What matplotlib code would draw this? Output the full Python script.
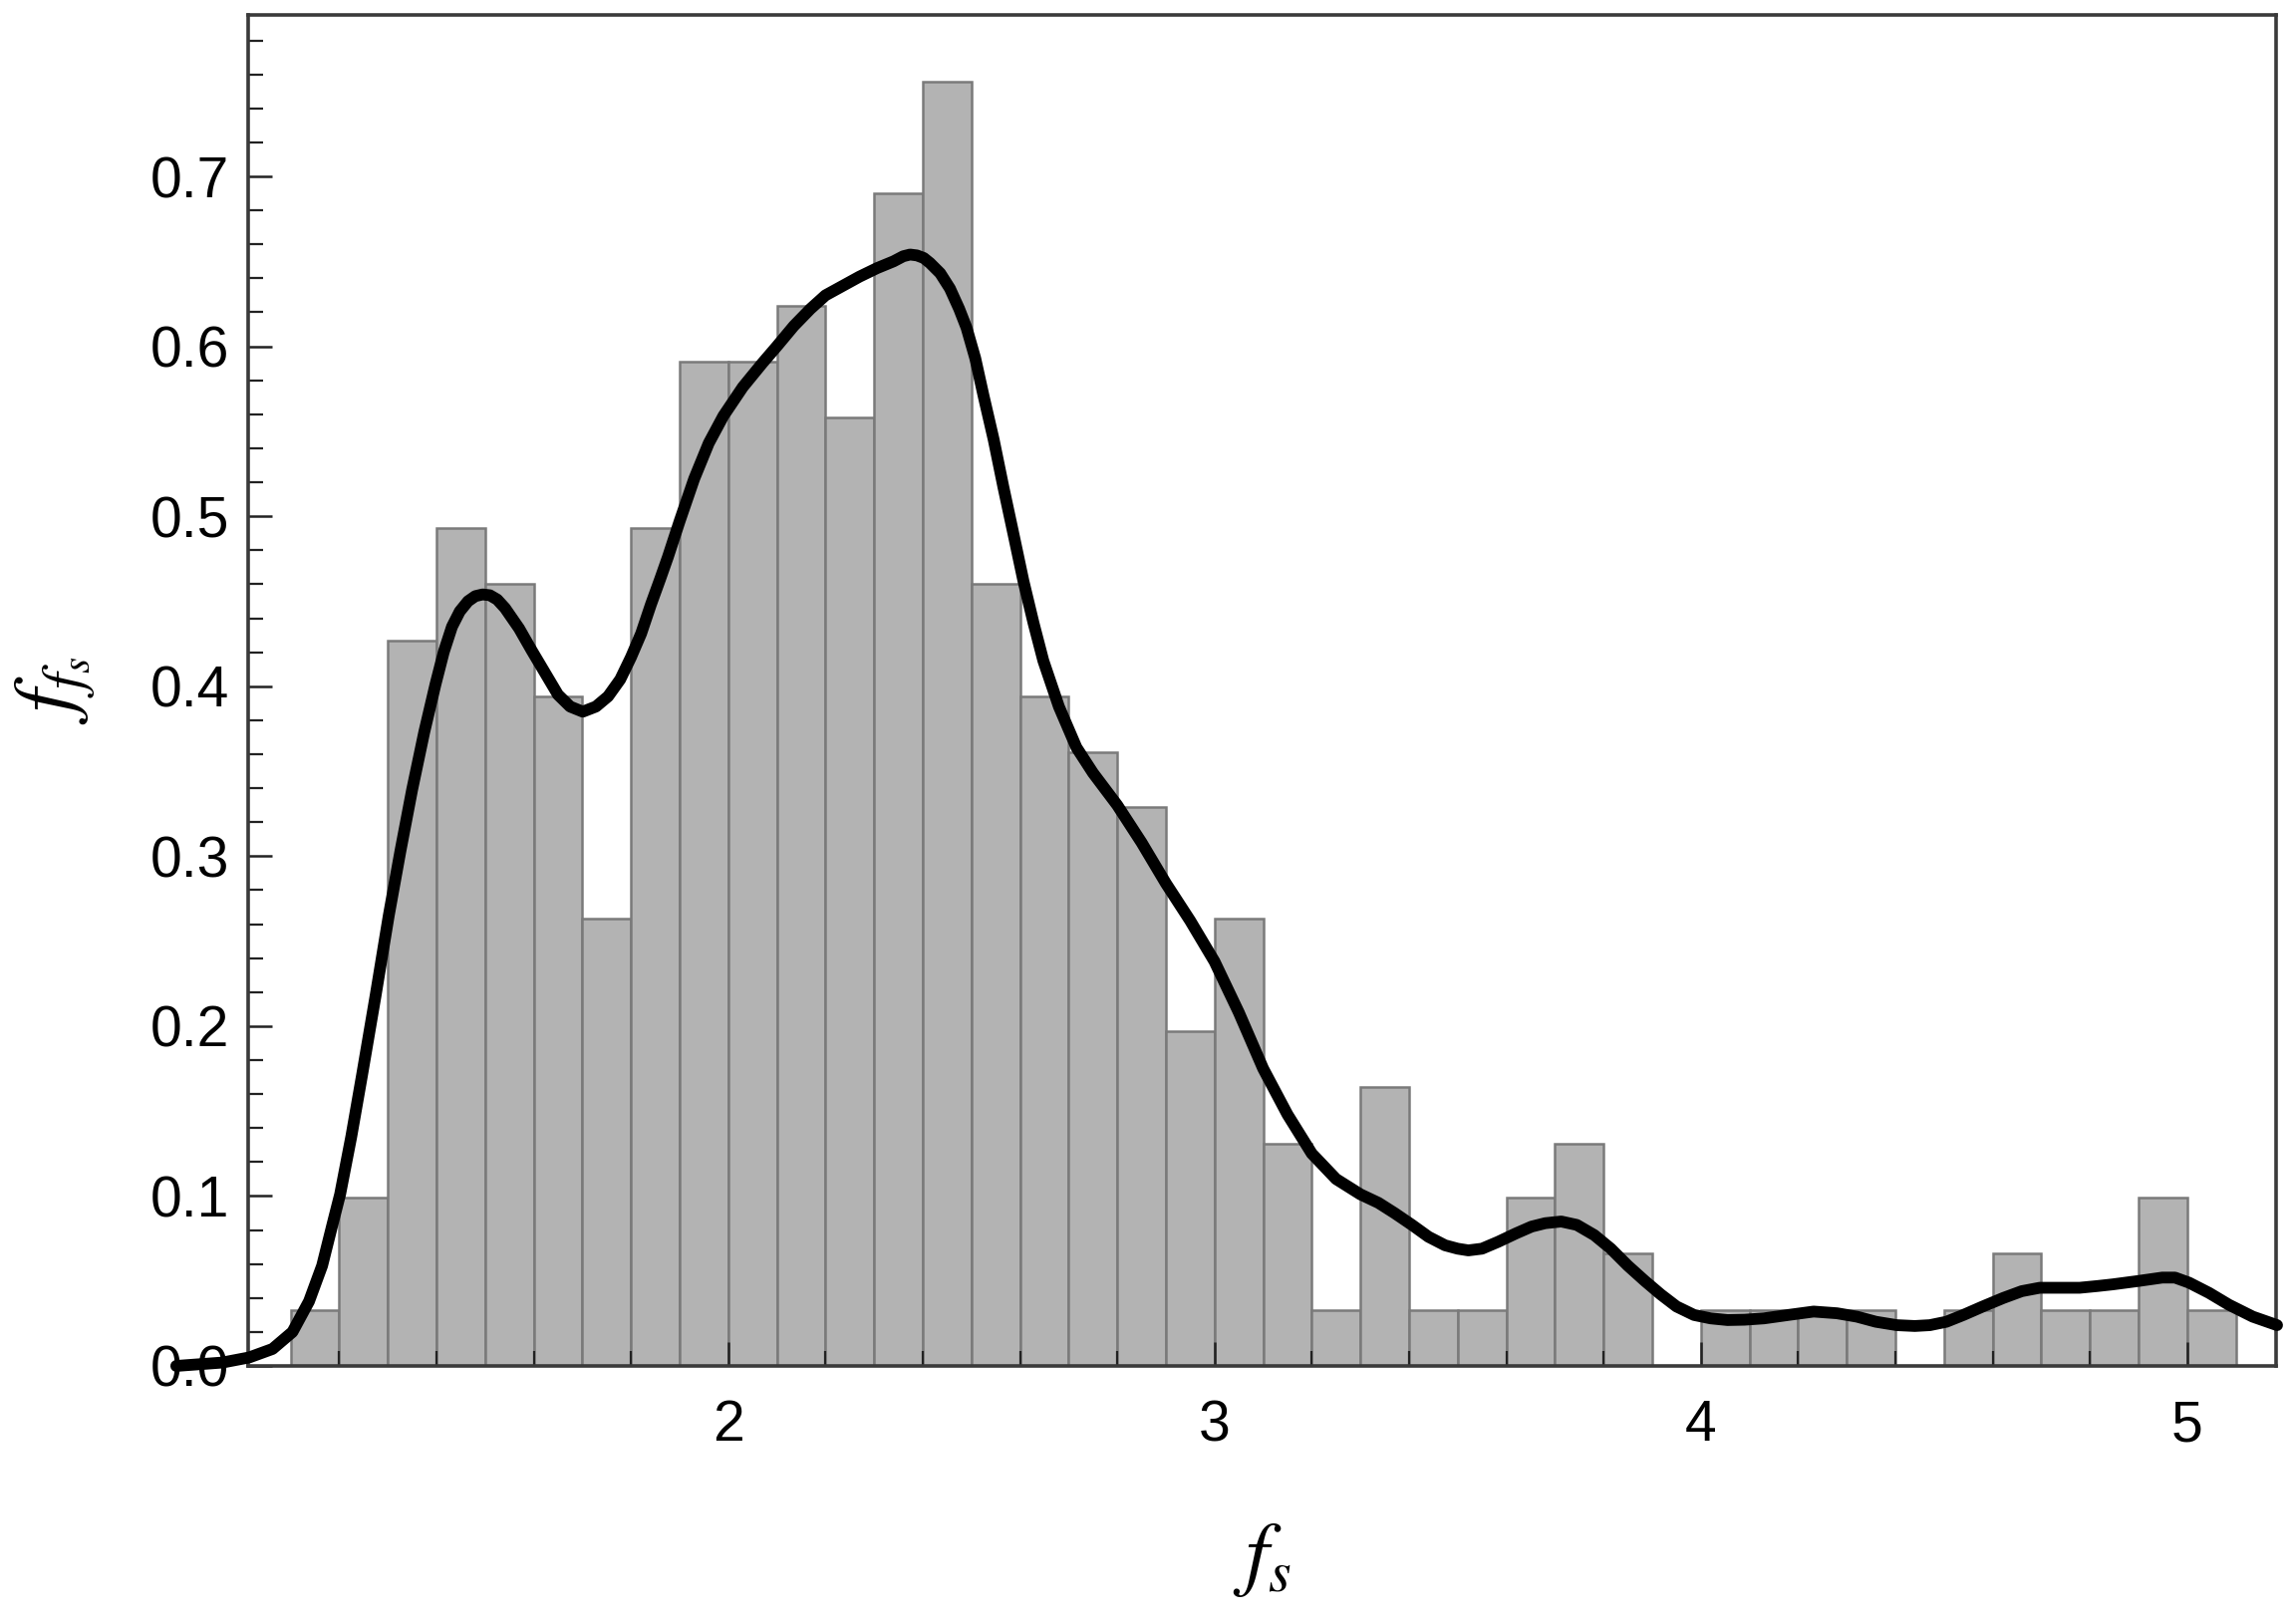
import matplotlib
matplotlib.use("Agg")
import matplotlib.pyplot as plt
from matplotlib.ticker import MultipleLocator, FormatStrFormatter

plt.rcParams["font.family"] = ["Liberation Sans", "DejaVu Sans"]
plt.rcParams["mathtext.fontset"] = "stix"

# histogram: left edge of each bin (width 0.1) and bar height (density)
bin_left = [1.1, 1.2, 1.3, 1.4, 1.5, 1.6, 1.7, 1.8, 1.9, 2.0,
            2.1, 2.2, 2.3, 2.4, 2.5, 2.6, 2.7, 2.8, 2.9, 3.0,
            3.1, 3.2, 3.3, 3.4, 3.5, 3.6, 3.7, 3.8, 3.9, 4.0,
            4.1, 4.2, 4.3, 4.4, 4.5, 4.6, 4.7, 4.8, 4.9, 5.0]
bar_height = [0.033, 0.099, 0.427, 0.493, 0.460, 0.394, 0.263, 0.493, 0.591, 0.591,
              0.624, 0.558, 0.690, 0.756, 0.460, 0.394, 0.361, 0.329, 0.197, 0.263,
              0.131, 0.033, 0.164, 0.033, 0.033, 0.099, 0.131, 0.066, 0.0, 0.033,
              0.033, 0.033, 0.033, 0.0, 0.033, 0.066, 0.033, 0.033, 0.099, 0.033]
bin_width = 0.1

# smooth density curve
curve_x = [0.865, 0.960, 1.015, 1.063, 1.104, 1.138, 1.165, 1.186, 1.202, 1.225,
           1.247, 1.275, 1.302, 1.326, 1.350, 1.375, 1.398, 1.415, 1.432, 1.448,
           1.465, 1.480, 1.495, 1.510, 1.525, 1.541, 1.570, 1.596, 1.623, 1.650,
           1.675, 1.701, 1.728, 1.753, 1.778, 1.800, 1.821, 1.841, 1.860, 1.876,
           1.900, 1.930, 1.960, 1.990, 2.030, 2.070, 2.100, 2.135, 2.169, 2.200,
           2.238, 2.270, 2.306, 2.340, 2.360, 2.374, 2.388, 2.402, 2.415, 2.436,
           2.456, 2.475, 2.490, 2.508, 2.525, 2.546, 2.566, 2.587, 2.607, 2.628,
           2.648, 2.680, 2.716, 2.750, 2.800, 2.850, 2.900, 2.950, 3.000, 3.050,
           3.100, 3.150, 3.200, 3.250, 3.300, 3.337, 3.370, 3.406, 3.440, 3.474,
           3.500, 3.522, 3.550, 3.583, 3.620, 3.652, 3.680, 3.713, 3.745, 3.781,
           3.815, 3.850, 3.885, 3.918, 3.950, 3.986, 4.020, 4.055, 4.090, 4.130,
           4.180, 4.232, 4.280, 4.321, 4.360, 4.403, 4.440, 4.471, 4.505, 4.540,
           4.580, 4.622, 4.660, 4.697, 4.740, 4.779, 4.815, 4.847, 4.900, 4.949,
           4.975, 5.004, 5.045, 5.086, 5.135, 5.185]
curve_y = [0.000, 0.002, 0.005, 0.010, 0.020, 0.038, 0.059, 0.083, 0.101, 0.135,
           0.171, 0.218, 0.265, 0.303, 0.339, 0.373, 0.401, 0.420, 0.435, 0.444,
           0.450, 0.453, 0.454, 0.4535, 0.451, 0.446, 0.434, 0.421, 0.408, 0.395,
           0.388, 0.385, 0.388, 0.394, 0.404, 0.417, 0.431, 0.448, 0.463, 0.476,
           0.497, 0.522, 0.543, 0.559, 0.576, 0.590, 0.600, 0.612, 0.622, 0.630,
           0.636, 0.641, 0.646, 0.650, 0.653, 0.654, 0.6535, 0.652, 0.649, 0.643,
           0.634, 0.622, 0.611, 0.593, 0.571, 0.545, 0.517, 0.489, 0.462, 0.437,
           0.415, 0.388, 0.364, 0.349, 0.330, 0.308, 0.284, 0.262, 0.238, 0.208,
           0.175, 0.148, 0.125, 0.110, 0.101, 0.096, 0.090, 0.083, 0.076, 0.071,
           0.069, 0.068, 0.069, 0.073, 0.078, 0.082, 0.084, 0.085, 0.083, 0.077,
           0.069, 0.059, 0.050, 0.042, 0.035, 0.030, 0.028, 0.027, 0.0272, 0.028,
           0.030, 0.032, 0.031, 0.029, 0.026, 0.024, 0.0235, 0.024, 0.026, 0.030,
           0.035, 0.040, 0.044, 0.046, 0.046, 0.046, 0.047, 0.048, 0.050, 0.052,
           0.052, 0.049, 0.043, 0.036, 0.029, 0.024]

fig = plt.figure(figsize=(23.02, 16.30), dpi=100)
ax = fig.add_axes([0.1082, 0.1589, 0.8840, 0.8319])

# skip empty bins, like the original
lefts = [b for b, h in zip(bin_left, bar_height) if h > 0]
heights = [h for h in bar_height if h > 0]
ax.bar(lefts, heights, width=bin_width, align="edge",
       color="#b3b3b3", edgecolor="#7a7a7a", linewidth=1.8, zorder=1)

ax.plot(curve_x, curve_y, color="black", linewidth=8.5,
        solid_capstyle="round", solid_joinstyle="round", clip_on=False, zorder=5)

ax.set_xlim(1.013, 5.183)
ax.set_ylim(0, 0.795)

ax.xaxis.set_major_locator(MultipleLocator(1))
ax.xaxis.set_minor_locator(MultipleLocator(0.2))
ax.yaxis.set_major_locator(MultipleLocator(0.1))
ax.yaxis.set_minor_locator(MultipleLocator(0.02))
ax.xaxis.set_major_formatter(FormatStrFormatter("%d"))
ax.yaxis.set_major_formatter(FormatStrFormatter("%.1f"))

ax.tick_params(which="both", direction="in", top=False, right=False,
               color="#222222", labelsize=41, labelcolor="black")
ax.tick_params(which="major", length=17, width=1.8)
ax.tick_params(which="minor", length=11, width=1.6)
ax.tick_params(axis="x", which="major", pad=24)
ax.tick_params(axis="y", which="major", pad=14)

for side in ax.spines.values():
    side.set_color("#3a3a3a")
    side.set_linewidth(2.6)

ax.set_xlabel(r"$f_s$", fontsize=60)
ax.set_ylabel(r"$f_{f_s}$", fontsize=60)
ax.xaxis.set_label_coords(0.5, -0.115)
ax.yaxis.set_label_coords(-0.074, 0.5)
ax.yaxis.label.set_va("bottom")

fig.savefig("out.png", dpi=100)
